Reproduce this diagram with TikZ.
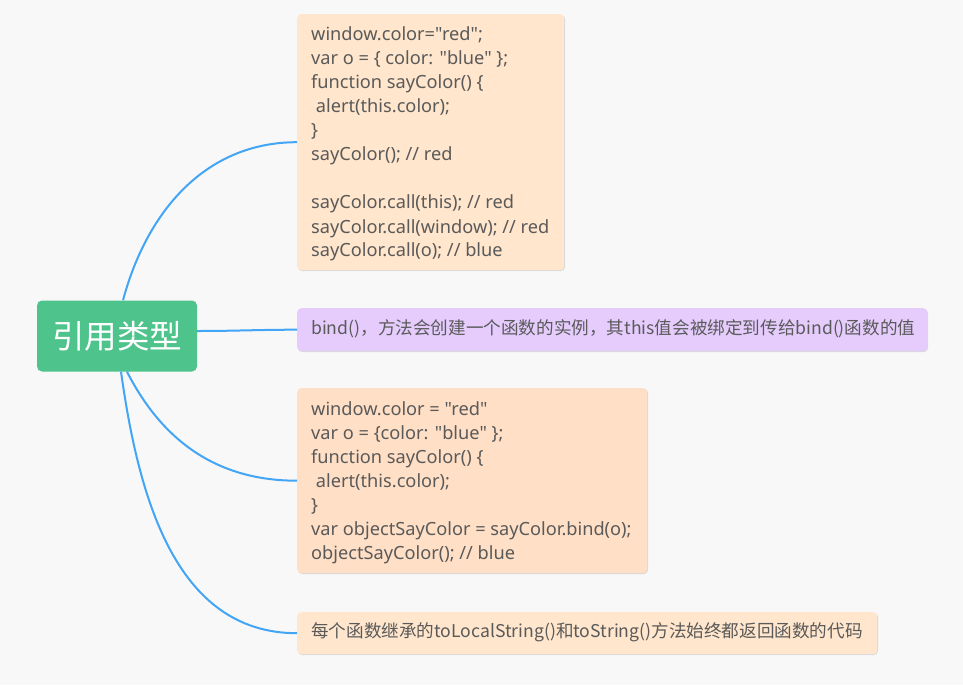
\documentclass[tikz,border=0pt]{standalone}
\usepackage{fontspec}
\setmainfont{Noto Sans CJK SC}
\newfontfamily\latinfont{Noto Sans}
\usetikzlibrary{shadows}
\definecolor{bgcol}{HTML}{F8F8F8}
\definecolor{rootgreen}{HTML}{4FC38C}
\definecolor{peach}{HTML}{FFE6CC}
\definecolor{peachdark}{HTML}{FFDFC5}
\definecolor{lavender}{HTML}{E5CCFD}
\definecolor{txtcol}{HTML}{5A5A5A}
\definecolor{linkcol}{HTML}{42A5F5}
\begin{document}
\begin{tikzpicture}[
  topicbox/.style={rectangle, rounded corners=4pt, anchor=north west, inner sep=0pt, draw=none,
    drop shadow={shadow xshift=0.8pt, shadow yshift=-0.8pt, fill=black, opacity=0.12}},
  rootbox/.style={rectangle, rounded corners=5pt, fill=rootgreen, text=white, inner sep=0pt,
    minimum width=160pt, minimum height=71pt, font=\fontsize{32.5}{36}\selectfont},
  topictext/.style={inner sep=0pt, text=txtcol, font=\fontsize{17.6}{24}\selectfont},
  codetext/.style={inner sep=0pt, text=txtcol, font=\latinfont\fontsize{18.2}{24}\selectfont},
  link/.style={draw=linkcol, line width=2pt}
]
\fill[bgcol] (0,0) rectangle (963pt,-685pt);
\useasboundingbox (0,0) rectangle (963pt,-685pt);

\node[rootbox] (root) at (117pt,-336pt) {引用类型};

\node[topicbox, fill=peach, minimum width=267pt, minimum height=256pt] (b1) at (297pt,-14pt) {};
\node[topicbox, fill=lavender, minimum width=630pt, minimum height=43pt] (b2) at (297pt,-308pt) {};
\node[topicbox, fill=peachdark, minimum width=350pt, minimum height=185pt] (b3) at (297pt,-388pt) {};
\node[topicbox, fill=peach, minimum width=580pt, minimum height=42pt] (b4) at (297pt,-612pt) {};

\node[codetext, anchor=base west] (t1) at (311pt,-41pt) {\vtop{\baselineskip=24pt
  \hbox{window.color="red";}
  \hbox{var o = \{ color: "blue" \};}
  \hbox{function sayColor() \{}
  \hbox{\ alert(this.color);}
  \hbox{\}}
  \hbox{sayColor(); // red}
  \hbox{}
  \hbox{sayColor.call(this); // red}
  \hbox{sayColor.call(window); // red}
  \hbox{sayColor.call(o); // blue}}};

\node[topictext, anchor=west] (t2) at ([xshift=14pt,yshift=0.5pt]b2.west) {bind()，方法会创建一个函数的实例，其this值会被绑定到传给bind()函数的值};

\node[codetext, anchor=base west] (t3) at (311pt,-415pt) {\vtop{\baselineskip=24pt
  \hbox{window.color = "red"}
  \hbox{var o = \{color: "blue" \};}
  \hbox{function sayColor() \{}
  \hbox{\ alert(this.color);}
  \hbox{\}}
  \hbox{var objectSayColor = sayColor.bind(o);}
  \hbox{objectSayColor(); // blue}}};

\node[topictext, anchor=west] (t4) at ([xshift=14pt,yshift=0.5pt]b4.west) {每个函数继承的toLocalString()和toString()方法始终都返回函数的代码};

\draw[link] ([xshift=6pt]root.north) to[out=75,in=180] (b1.west);
\draw[link] ([yshift=5pt]root.east) to[out=0,in=180] (b2.west);
\draw[link] ([xshift=10pt]root.south) to[out=-63,in=180] (b3.west);
\draw[link] ([xshift=4pt]root.south) to[out=-82,in=180] (b4.west);
\end{tikzpicture}
\end{document}
